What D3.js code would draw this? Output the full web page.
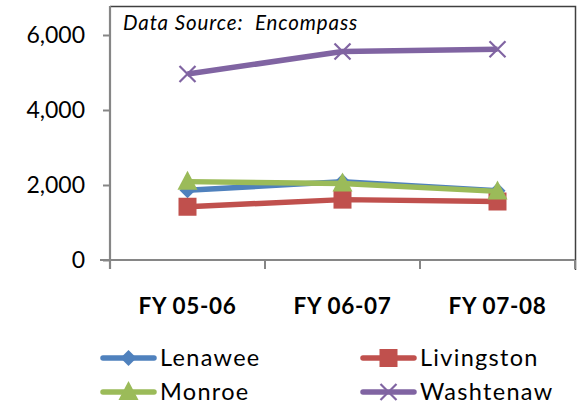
<!DOCTYPE html>
<html>
<head>
<meta charset="utf-8">
<script src="https://cdn.jsdelivr.net/npm/d3@7"></script>
<style>
  html, body { margin: 0; padding: 0; background: #fff; }
  svg { display: block; font-family: Lato, "Open Sans", sans-serif; }
</style>
</head>
<body>
<svg id="chart" width="577" height="410"></svg>
<script>
// Fiscal years shown on the category axis
const fiscalYears = ["FY 05-06", "FY 06-07", "FY 07-08"];

// Counts per county
const lenawee    = [1860, 2090, 1850];
const livingston = [1420, 1610, 1560];
const monroe     = [2090, 2040, 1830];
const washtenaw  = [4960, 5560, 5620];

const yTicks = [0, 2000, 4000, 6000];

const seriesList = [
  { name: "Lenawee",    values: lenawee,    color: "#4F81BD", marker: "diamond" },
  { name: "Livingston", values: livingston, color: "#C0504D", marker: "square" },
  { name: "Monroe",     values: monroe,     color: "#9BBB59", marker: "triangle" },
  { name: "Washtenaw",  values: washtenaw,  color: "#8064A2", marker: "cross" }
];

const svg = d3.select("#chart");
const plot = { left: 110, right: 575, top: 6, bottom: 260 };

const x = d3.scaleBand().domain(fiscalYears).range([plot.left, plot.right]);
const y = d3.scaleLinear().domain([0, 6000]).range([plot.bottom, 35]);

// Chart frame (top and right edges)
svg.append("path")
  .attr("d", `M${plot.left},${plot.top + 0.5}H${plot.right + 0.5}V${plot.bottom + 10}`)
  .attr("fill", "none").attr("stroke", "#404040").attr("stroke-width", 1.5);

// Value axis
const yAxis = svg.append("g").attr("transform", `translate(${plot.left},0)`)
  .call(d3.axisLeft(y).tickValues(yTicks).tickSize(7).tickPadding(18)
    .tickFormat(d3.format(",")));
yAxis.select(".domain").attr("d", `M0,${plot.top}V${plot.bottom + 9}`)
  .attr("stroke", "#868686").attr("stroke-width", 2.2);
yAxis.selectAll(".tick line").attr("stroke", "#868686").attr("stroke-width", 2);
yAxis.selectAll(".tick text").attr("font-size", 23).attr("fill", "#000")
  .attr("font-family", "Lato, sans-serif");

// Category axis with boundary ticks
const xAxisG = svg.append("g").attr("transform", `translate(0,${plot.bottom})`);
xAxisG.append("line").attr("x1", plot.left - 10).attr("x2", plot.right)
  .attr("stroke", "#868686").attr("stroke-width", 2.2);
const bounds = fiscalYears.map(d => x(d)).concat([x(fiscalYears[fiscalYears.length - 1]) + x.bandwidth()]);
xAxisG.selectAll("line.bt").data(bounds).join("line").attr("class", "bt")
  .attr("x1", d => d).attr("x2", d => d).attr("y1", 0).attr("y2", 9)
  .attr("stroke", "#868686").attr("stroke-width", 2);
xAxisG.selectAll("text").data(fiscalYears).join("text")
  .attr("x", d => x(d) + x.bandwidth() / 2).attr("y", 54)
  .attr("text-anchor", "middle").attr("font-size", 22.5).attr("font-weight", "bold")
  .attr("letter-spacing", 0.7)
  .text(d => d);

// Source note
svg.append("text").attr("x", 123).attr("y", 30)
  .attr("font-size", 20.5).attr("font-style", "italic").attr("xml:space", "preserve")
  .attr("letter-spacing", 0.9)
  .text("Data Source:  Encompass");

const cx = d => x(d) + x.bandwidth() / 2;

function drawMarker(g, type, color) {
  if (type === "diamond") {
    g.append("path").attr("d", "M0,-8L8,0L0,8L-8,0Z").attr("fill", color);
  } else if (type === "square") {
    g.append("rect").attr("x", -9).attr("y", -9).attr("width", 18).attr("height", 18).attr("fill", color);
  } else if (type === "triangle") {
    g.append("path").attr("d", "M0,-11L10,8L-10,8Z").attr("fill", color);
  } else if (type === "cross") {
    g.append("path").attr("d", "M-8,-8L8,8M-8,8L8,-8").attr("stroke", color)
      .attr("stroke-width", 2.2).attr("fill", "none");
  }
}

const line = d3.line().x((d, i) => cx(fiscalYears[i])).y(d => y(d));

seriesList.forEach(s => {
  const g = svg.append("g");
  g.append("path").datum(s.values).attr("d", line)
    .attr("fill", "none").attr("stroke", s.color).attr("stroke-width", 5.5)
    .attr("stroke-linejoin", "round");
  s.values.forEach((v, i) => {
    const m = g.append("g").attr("transform", `translate(${cx(fiscalYears[i])},${y(v)})`);
    drawMarker(m, s.marker, s.color);
  });
});

// Legend, two columns
const legendPos = [[103, 358], [363, 358], [103, 392], [363, 392]];
seriesList.forEach((s, i) => {
  const [lx, ly] = legendPos[i];
  const g = svg.append("g").attr("transform", `translate(${lx},${ly})`);
  g.append("line").attr("x1", 0).attr("x2", 51).attr("stroke", s.color)
    .attr("stroke-width", 5.5).attr("stroke-linecap", "round");
  const m = g.append("g").attr("transform", "translate(25.5,0)");
  drawMarker(m, s.marker, s.color);
  g.append("text").attr("x", 57).attr("y", 0).attr("dy", "0.35em")
    .attr("font-size", 23.5).attr("letter-spacing", 1.3).text(s.name);
});
</script>
</body>
</html>
